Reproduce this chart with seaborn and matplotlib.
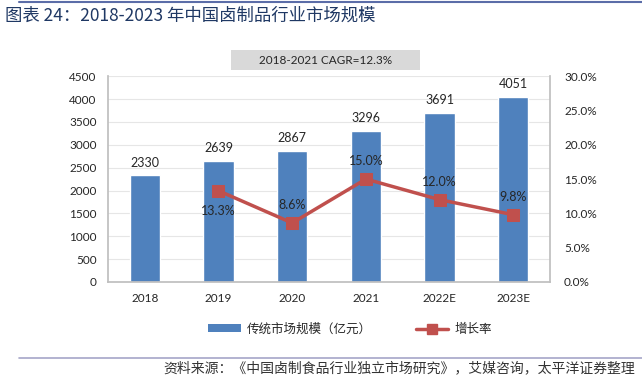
import matplotlib
matplotlib.use("Agg")
import matplotlib.pyplot as plt
import seaborn as sns
import pandas as pd
from matplotlib.lines import Line2D
from matplotlib.patches import Patch, Rectangle

years = ["2018", "2019", "2020", "2021", "2022E", "2023E"]
market_size = [2330, 2639, 2867, 3296, 3691, 4051]
growth_years = ["2019", "2020", "2021", "2022E", "2023E"]
growth_rate = [13.3, 8.6, 15.0, 12.0, 9.8]

sns.set_theme(style="white")
plt.rcParams['font.family'] = ['Lato', 'Noto Sans CJK SC', 'DejaVu Sans']

BLUE = "#4F81BD"
RED = "#C0504D"
TXT = "#262626"
CJK = ['Noto Sans CJK SC', 'DejaVu Sans']

fig = plt.figure(figsize=(6.42, 3.75), dpi=100)
ax = fig.add_axes([0.168, 0.248, 0.689, 0.549])

df = pd.DataFrame({"year": years, "size": market_size})
sns.barplot(data=df, x="year", y="size", color=BLUE, width=0.41, ax=ax,
            saturation=1, order=years)
ax.set_ylim(0, 4500)
ax.set_yticks(range(0, 4501, 500))
ax.set_xlabel("")
ax.set_ylabel("")
for i, v in enumerate(market_size):
    ax.text(i, v + 150, str(v), ha="center", va="bottom", fontsize=9, color=TXT)
ax.yaxis.grid(True, color="#E6E6E6", linewidth=0.8)
ax.set_axisbelow(True)
ax.spines["top"].set_visible(False)
for s in ["left", "right", "bottom"]:
    ax.spines[s].set_color("#BFBFBF")
ax.tick_params(axis="both", labelsize=8.5, colors=TXT, length=0, pad=8)
ax.set_xlim(-0.5, 5.5)

ax2 = ax.twinx()
gx = [years.index(y) for y in growth_years]
sns.lineplot(x=gx, y=growth_rate, ax=ax2, color=RED, linewidth=2.5,
             marker="s", markersize=9, markeredgecolor=RED)
ax2.set_ylim(0, 30)
ax2.set_yticks(range(0, 31, 5))
ax2.set_yticklabels([f"{t:.1f}%" for t in range(0, 31, 5)])
ax2.tick_params(axis="y", labelsize=8.5, colors=TXT, length=0, pad=10)
for s in ax2.spines.values():
    s.set_visible(False)
ax2.grid(False)
offsets = {"2019": -2.1, "2020": 1.8, "2021": 1.7, "2022E": 1.7, "2023E": 1.7}
for y, r in zip(growth_years, growth_rate):
    off = offsets[y]
    ax2.text(years.index(y), r + off, f"{r:.1f}%", ha="center",
             va="top" if off < 0 else "bottom", fontsize=9, color=TXT)
ax2.set_xlim(-0.5, 5.5)

# CAGR box
fig.add_artist(Rectangle((0.360, 0.813), 0.294, 0.054, transform=fig.transFigure,
                         facecolor="#D9D9D9", edgecolor="none"))
fig.text(0.507, 0.840, "2018-2021 CAGR=12.3%", ha="center", va="center",
         fontsize=8.5, color=TXT)
# Title
fig.text(0.008, 0.957, "图表 24：2018-2023 年中国卤制品行业市场规模", ha="left",
         va="center", fontsize=12.5, color="#1F3864", family=CJK)
fig.add_artist(Line2D([0.03, 1.0], [0.995, 0.995], color="#5B6DA8", linewidth=1.5))
fig.add_artist(Line2D([0.03, 1.0], [0.045, 0.045], color="#A6A6C8", linewidth=1.2))
fig.text(0.99, 0.018, "资料来源：《中国卤制食品行业独立市场研究》，艾媒咨询，太平洋证券整理",
         ha="right", va="center", fontsize=10, color="#333333", family=CJK)

handles = [Patch(facecolor=BLUE, edgecolor="none"),
           Line2D([0], [0], color=RED, linewidth=2.5, marker="s", markersize=7)]
fig.legend(handles, ["传统市场规模（亿元）", "增长率"], loc="center",
           bbox_to_anchor=(0.545, 0.122), ncol=2, frameon=False,
           handlelength=2.6, handleheight=0.6, columnspacing=3.5, handletextpad=0.5,
           prop={"family": CJK, "size": 9})

fig.savefig("out.png", dpi=100)
